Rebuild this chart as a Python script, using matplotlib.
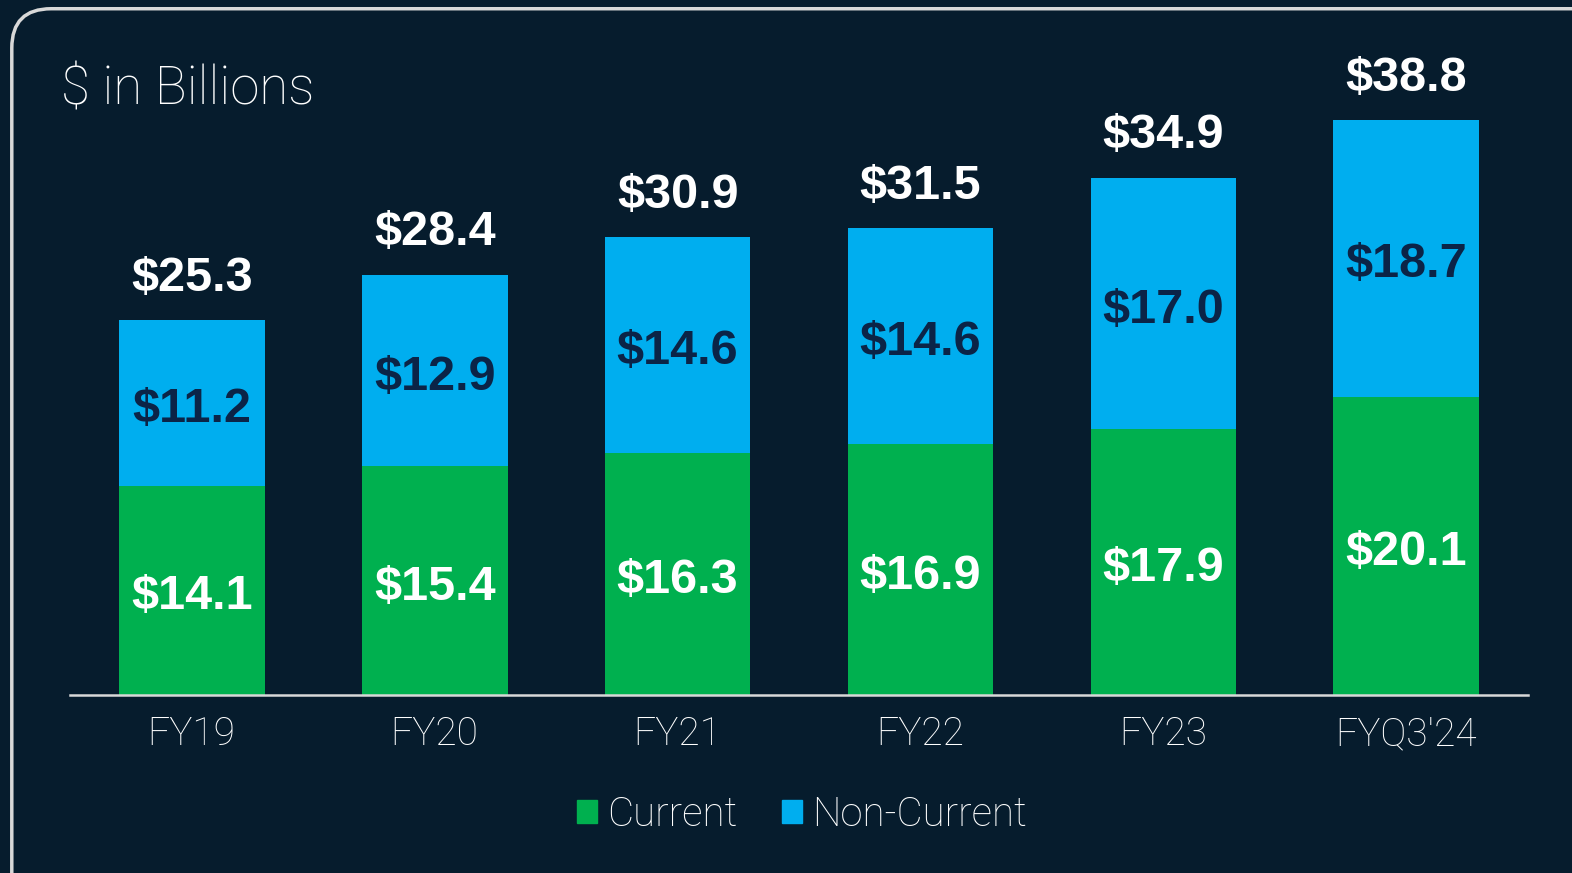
import matplotlib
matplotlib.use('Agg')
import matplotlib.pyplot as plt
from matplotlib.patches import FancyBboxPatch, Patch

# Datos
periodos = ["FY19", "FY20", "FY21", "FY22", "FY23", "FYQ3'24"]
corriente = [14.1, 15.4, 16.3, 16.9, 17.9, 20.1]
no_corriente = [11.2, 12.9, 14.6, 14.6, 17.0, 18.7]
totales = [25.3, 28.4, 30.9, 31.5, 34.9, 38.8]

fondo = '#061C2D'
verde = '#00B04F'
azul = '#00AEEF'
azul_oscuro = '#0B2447'
fuente_fina = ['Roboto', 'DejaVu Sans']

plt.rcParams['font.family'] = ['Liberation Sans', 'DejaVu Sans']

fig = plt.figure(figsize=(15.72, 8.73), dpi=100)
fig.patch.set_facecolor(fondo)

# Marco redondeado
marco = FancyBboxPatch((0.0075, -0.2), 1.2, 1.19, boxstyle="round,pad=0,rounding_size=0.025",
                       transform=fig.transFigure, facecolor='none', edgecolor='#D8D8D8',
                       linewidth=2.5, mutation_aspect=1.8)
fig.patches.append(marco)

ax = fig.add_axes([0.0447, 0.2044, 0.9272, 0.7636])
ax.set_facecolor(fondo)

x = range(len(periodos))
ax.bar(x, corriente, width=0.6, color=verde)
ax.bar(x, no_corriente, width=0.6, bottom=corriente, color=azul)

desfase = 0.45  # bajar un poco las etiquetas internas
for i in x:
    ax.text(i, corriente[i] / 2 - desfase, f'${corriente[i]:.1f}', ha='center', va='center',
            color='white', fontsize=35, fontweight='bold')
    ax.text(i, corriente[i] + no_corriente[i] / 2 - desfase, f'${no_corriente[i]:.1f}',
            ha='center', va='center', color=azul_oscuro, fontsize=35, fontweight='bold')
    ax.text(i, totales[i] + 1.3, f'${totales[i]:.1f}', ha='center', va='bottom',
            color='white', fontsize=35, fontweight='bold')

ax.set_xlim(-0.5, 5.5)
ax.set_ylim(0, 45)
ax.set_yticks([])
ax.set_xticks(list(x))
ax.set_xticklabels(periodos, color='white', fontsize=28, family=fuente_fina,
                   fontweight='light')
ax.tick_params(axis='x', length=0, pad=15)
for lado in ['top', 'right', 'left']:
    ax.spines[lado].set_visible(False)
ax.spines['bottom'].set_color('#D8D8D8')
ax.spines['bottom'].set_linewidth(1.8)

fig.text(0.039, 0.897, '$ in Billions', color='white', fontsize=38, va='center',
         family=fuente_fina, fontweight='light')

handles = [Patch(color=verde, label='Current'), Patch(color=azul, label='Non-Current')]
ley = fig.legend(handles=handles, loc='center', bbox_to_anchor=(0.51, 0.067), ncol=2,
                 frameon=False, handlelength=0.5, handleheight=0.5, handletextpad=0.25,
                 columnspacing=1.1, prop={'family': fuente_fina, 'size': 29,
                                          'weight': 'light'})
for t in ley.get_texts():
    t.set_color('white')

fig.savefig('out.png', dpi=100, facecolor=fondo)
